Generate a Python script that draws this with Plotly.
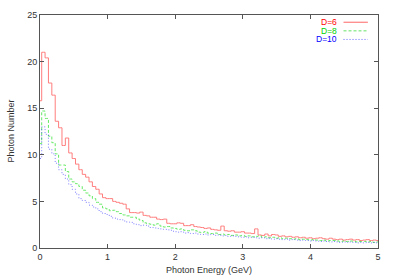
import numpy as np
import plotly.graph_objects as go

energy = [round(i * 0.05, 2) for i in range(101)]

d6 = [15.8, 21.0, 20.4, 17.7, 16.4, 13.6, 12.9, 11.0, 11.8, 10.2,
      9.6, 9.0, 8.4, 7.9, 7.6, 7.1, 6.6, 6.3, 5.8, 5.4,
      5.3, 5.3, 5.0, 4.9, 4.8, 4.7, 4.2, 3.8, 3.8, 3.75,
      3.85, 3.5, 3.45, 3.3, 3.3, 3.1, 3.05, 3.1, 2.65, 2.6,
      2.6, 2.7, 2.65, 2.4, 2.4, 2.5, 2.3, 2.25, 2.2, 2.1,
      2.15, 2.0, 1.95, 1.9, 2.35, 1.85, 1.8, 1.85, 1.7, 1.7,
      1.75, 1.6, 1.6, 1.55, 2.05, 1.4, 1.35, 1.5, 1.3, 1.45,
      1.4, 1.25, 1.3, 1.2, 1.25, 1.15, 1.2, 1.1, 1.15, 1.05,
      1.1, 1.0, 1.05, 1.1, 1.0, 0.95, 1.05, 0.95, 0.9, 0.95,
      0.85, 0.9, 0.95, 0.85, 0.9, 0.8, 0.85, 0.9, 0.8, 0.85,
      0.8]

d8 = [11.2, 14.7, 13.9, 12.0, 11.3, 10.1, 8.9, 8.9, 8.2, 7.4,
      7.1, 6.9, 6.6, 6.2, 5.9, 5.6, 5.3, 4.9, 4.7, 4.3,
      4.2, 4.0, 4.05, 3.9, 3.7, 3.55, 3.45, 3.3, 3.3, 3.1,
      2.95, 2.7, 2.6, 2.55, 2.45, 2.6, 2.35, 2.25, 2.3, 2.15,
      2.1, 2.0, 2.05, 1.9, 1.85, 1.95, 1.85, 1.7, 1.65, 1.75,
      1.6, 1.55, 1.6, 1.45, 1.5, 1.4, 1.45, 1.35, 1.4, 1.3,
      1.35, 1.25, 1.3, 1.2, 1.25, 1.3, 1.15, 1.2, 1.1, 1.15,
      1.05, 1.1, 1.0, 1.05, 1.0, 0.95, 1.0, 0.9, 0.95, 0.9,
      0.85, 0.9, 0.85, 0.8, 0.85, 0.75, 0.8, 0.8, 0.75, 0.7,
      0.75, 0.7, 0.75, 0.7, 0.65, 0.7, 0.7, 0.65, 0.7, 0.6,
      0.65]

d10 = [9.6, 13.0, 12.2, 10.6, 10.1, 9.1, 8.4, 7.9, 7.4, 6.8,
       6.3, 5.8, 5.3, 5.1, 4.9, 4.6, 4.4, 4.2, 3.9, 3.7,
       3.6, 3.4, 3.2, 3.1, 3.05, 2.9, 2.8, 2.75, 2.6, 2.5,
       2.4, 2.45, 2.35, 2.2, 2.15, 2.1, 2.05, 2.0, 1.95, 1.9,
       1.75, 1.7, 1.75, 1.6, 1.65, 1.55, 1.6, 1.5, 1.45, 1.5,
       1.4, 1.45, 1.35, 1.4, 1.3, 1.35, 1.25, 1.3, 1.25, 1.2,
       1.15, 1.2, 1.1, 1.15, 1.1, 1.05, 1.1, 1.0, 1.05, 0.95,
       1.0, 0.95, 0.9, 0.95, 0.85, 0.9, 0.85, 0.8, 0.85, 0.8,
       0.75, 0.8, 0.75, 0.7, 0.75, 0.7, 0.65, 0.7, 0.65, 0.6,
       0.65, 0.6, 0.65, 0.6, 0.55, 0.6, 0.55, 0.6, 0.55, 0.6,
       0.55]

labels = ["D=6", "D=8", "D=10"]
colors = ["rgb(255,40,40)", "rgb(0,220,0)", "rgb(40,40,255)"]
dashes = ["solid", "3px,2px", "1px,2px"]
series = [d6, d8, d10]

x_ticks = [0, 1, 2, 3, 4, 5]
y_ticks = [0, 5, 10, 15, 20, 25]

fig = go.Figure()
for name, ys, c, d in zip(labels, series, colors, dashes):
    fig.add_trace(go.Scatter(x=energy, y=ys, mode="lines", name=name,
                             line=dict(shape="hvh", color=c, width=1, dash=d),
                             opacity=0.6, showlegend=False))

font = dict(family="Liberation Sans, Arial, sans-serif", size=9, color="#333333")
axis_common = dict(showline=True, linecolor="#555555", linewidth=1, mirror="ticks",
                   ticks="inside", ticklen=4, tickcolor="#555555", showgrid=False,
                   zeroline=False, tickfont=font)

fig.update_layout(
    width=393, height=275,
    margin=dict(l=40, r=15, t=10, b=27),
    paper_bgcolor="white", plot_bgcolor="white",
    xaxis=dict(range=[0, 5], tickvals=x_ticks, ticktext=[str(v) for v in x_ticks], **axis_common),
    yaxis=dict(range=[0, 25], tickvals=y_ticks, ticktext=[str(v) for v in y_ticks], **axis_common),
    font=font,
)

# axis titles
fig.add_annotation(text="Photon Energy (GeV)", xref="paper", yref="paper", x=0.5, y=0,
                   yshift=-22, xanchor="center", yanchor="middle", showarrow=False, font=font)
fig.add_annotation(text="Photon Number", xref="paper", yref="paper", x=0, y=0.5,
                   xshift=-30, textangle=-90, xanchor="center", yanchor="middle",
                   showarrow=False, font=font)

# legend (gnuplot style: text then line sample)
leg_y = [0.969, 0.932, 0.895]
for name, c, d, yy in zip(labels, ["rgb(255,0,0)", "rgb(0,210,0)", "rgb(0,0,255)"], dashes, leg_y):
    fig.add_annotation(text=name, xref="paper", yref="paper", x=0.885, y=yy,
                       xanchor="right", yanchor="middle", showarrow=False,
                       font=dict(family=font["family"], size=8.5, color=c))
    fig.add_shape(type="line", xref="paper", yref="paper", x0=0.898, x1=0.97, y0=yy, y1=yy,
                  line=dict(color=c, width=1, dash=d), opacity=0.6)

fig.write_html("out.html", config={"displayModeBar": False},
               post_script="document.body.style.margin='0';document.body.style.padding='0';")
